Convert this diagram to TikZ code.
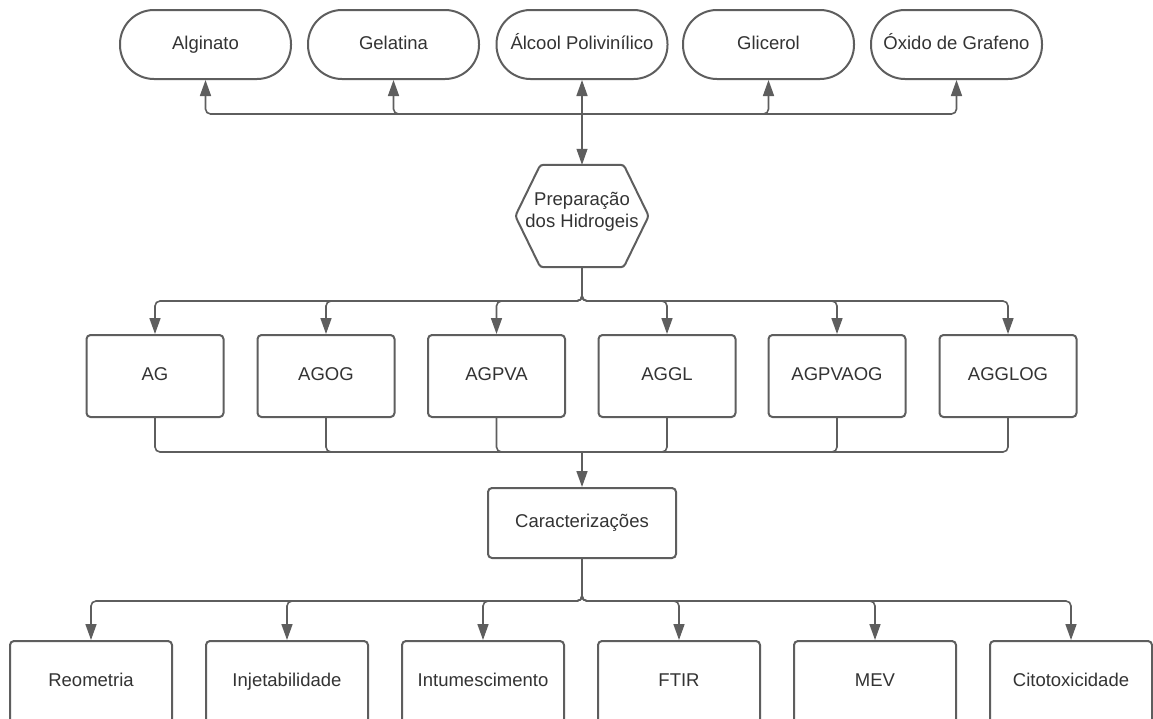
\documentclass[tikz,border=0pt]{standalone}
\usepackage{fontspec}
\setmainfont{Liberation Sans}
\usetikzlibrary{arrows.meta,calc}
\definecolor{ln}{HTML}{5E5E5E}
\definecolor{tx}{HTML}{333333}
\begin{document}
\begin{tikzpicture}[x=1pt,y=-1pt,
  every node/.style={font=\fontsize{18.5}{22}\selectfont, text=tx},
  lbl/.style={text height=13.5pt, text depth=4pt},
  pill/.style={lbl, draw=ln, line width=2pt, rounded corners=34pt, minimum width=171pt, minimum height=69pt, inner sep=0pt},
  hbox/.style={lbl, draw=ln, line width=2pt, rounded corners=4pt, minimum width=137pt, minimum height=82pt, inner sep=0pt},
  cbox/.style={lbl, draw=ln, line width=2pt, rounded corners=4pt, minimum width=188pt, minimum height=70pt, inner sep=0pt},
  tbox/.style={lbl, draw=ln, line width=2pt, rounded corners=4pt, minimum width=162pt, minimum height=82pt, inner sep=0pt},
  conn/.style={draw=ln, line width=1.6pt, rounded corners=5pt},
  arr/.style={conn, -{Triangle[length=16pt,width=11pt]}},
  thinarr/.style={draw=ln, line width=1.1pt, -{Triangle[length=16pt,width=11pt]}},
]
\useasboundingbox (0,0) rectangle (1153,718);
\clip (0,0) rectangle (1153,718);
\fill[white] (0,0) rectangle (1153,718);

% top materials
\node[pill] (alg) at (205.5,44.5) {Alginato};
\node[pill] (gel) at (393.5,44.5) {Gelatina};
\node[pill] (pva) at (582,44.5) {Álcool Polivinílico};
\node[pill] (gli) at (768.5,44.5) {Glicerol};
\node[pill] (oxg) at (956.5,44.5) {Óxido de Grafeno};

% hexagon
\node[minimum width=133pt, minimum height=102pt, inner sep=0pt] (prep) at (582,216) {};
\node[align=center, inner sep=0pt] (preptxt) at (582,212) {Preparação\\dos Hidrogeis};
\draw[ln, line width=2pt, rounded corners=3pt]
  (prep.west) -- ($(prep.north west)+(25,0)$) -- ($(prep.north east)-(25,0)$)
  -- (prep.east) -- ($(prep.south east)-(25,0)$) -- ($(prep.south west)+(25,0)$) -- cycle;

\coordinate (j1) at (582,114);
\draw[arr] (j1) -| (alg.south);
\draw[arr] (j1) -| (gel.south);
\draw[arr] (j1) -- (pva.south);
\draw[arr] (j1) -| (gli.south);
\draw[arr] (j1) -| (oxg.south);
\draw[thinarr] (j1) -- (prep.north);

% hydrogels
\node[hbox] (ag) at (155,376) {AG};
\node[hbox] (agog) at (326,376) {AGOG};
\node[hbox] (agpva) at (496.5,376) {AGPVA};
\node[hbox] (aggl) at (667,376) {AGGL};
\node[hbox] (agpvaog) at (837,376) {AGPVAOG};
\node[hbox] (agglog) at (1008,376) {AGGLOG};

\coordinate (j2) at (582,301);
\foreach \b in {ag,agog,agpva,aggl,agpvaog,agglog}{
  \draw[arr] (prep.south) -- (j2) -| (\b.north);
}

% characterisations
\node[cbox] (car) at (582,523) {Caracterizações};
\coordinate (j3) at (582,452);
\foreach \b in {ag,agog,agpva,aggl,agpvaog,agglog}{
  \draw[conn] (\b.south) |- (j3);
}
\draw[arr] (j3) -- (car.north);

% tests
\node[tbox] (reo) at (91,682) {Reometria};
\node[tbox] (inj) at (287,682) {Injetabilidade};
\node[tbox] (int) at (483,682) {Intumescimento};
\node[tbox] (ftir) at (679,682) {FTIR};
\node[tbox] (mev) at (875,682) {MEV};
\node[tbox] (cit) at (1071,682) {Citotoxicidade};

\coordinate (j4) at (582,601);
\foreach \b in {reo,inj,int,ftir,mev,cit}{
  \draw[arr] (car.south) -- (j4) -| (\b.north);
}
\end{tikzpicture}
\end{document}
